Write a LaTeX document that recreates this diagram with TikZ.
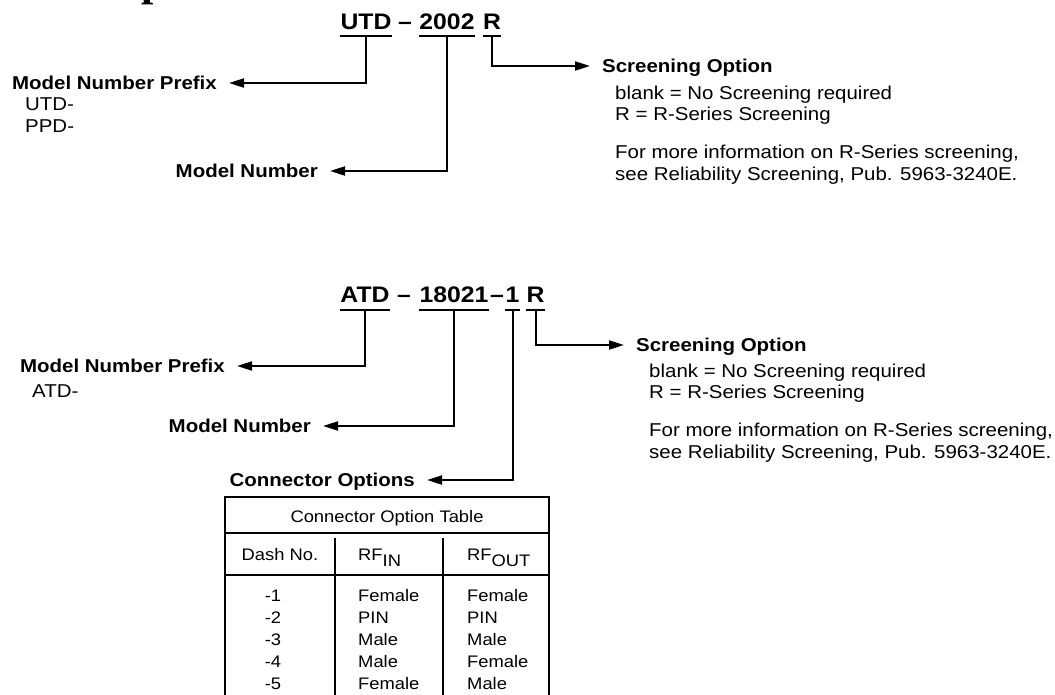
\documentclass[tikz,border=0pt]{standalone}
\usepackage{fontspec}
\setmainfont{Liberation Sans}[FakeStretch=1.1]
\newfontfamily\headfont{Liberation Serif}
\usetikzlibrary{positioning,arrows.meta}

\newcommand{\codesize}{\fontsize{22.5pt}{27pt}\selectfont\bfseries}
\newcommand{\labsize}{\fontsize{18.6pt}{22.5pt}\selectfont\bfseries}
\newcommand{\txtsize}{\fontsize{18.6pt}{22.5pt}\selectfont}
\newcommand{\tabsize}{\fontsize{16.7pt}{22pt}\selectfont}

\begin{document}
\begin{tikzpicture}[x=1pt, y=-1pt,
    code/.style={font=\codesize, inner sep=0pt, anchor=base},
    lab/.style={font=\labsize, inner sep=0pt, text height=13pt, text depth=0pt},
    txt/.style={font=\txtsize, inner sep=0pt, anchor=base west},
    cell/.style={font=\tabsize, inner sep=0pt, anchor=base},
    conn/.style={line width=2pt, -{Triangle[length=15pt,width=9pt]}},
    uline/.style={line width=2pt},
    grid/.style={line width=1.2pt}]
    \fill[white] (0,0) rectangle (1055,694);
    \useasboundingbox (0,0) rectangle (1055,694);

    % cut heading
    \node[inner sep=0pt, anchor=base west, font={\headfont\bfseries\fontsize{44pt}{50pt}\selectfont}] (headp) at (141,-5) {p};

    % UTD part number
    \node[code] (utdA) at (366,29) {UTD};
    \node[code] (dashA) at (405,29) {–};
    \node[code] (numA) at (447,29) {2002};
    \node[code] (rA) at (492,29) {R};
    \foreach \n in {utdA,numA,rA}
        \draw[uline] ([yshift=-7pt]\n.base west) -- ([yshift=-7pt]\n.base east);

    \node[lab, anchor=east] (pfxA) at (217,83) {Model Number Prefix};
    \node[txt] (utdL) at (25,110) {UTD-};
    \node[txt] (ppdL) at (25,132) {PPD-};
    \node[lab, anchor=east] (nameA) at (318,171) {Model Number};

    \node[lab, anchor=west] (scrA) at (602,66) {Screening Option};
    \node[txt] (blankA) at ([xshift=13pt, yshift=-27pt]scrA.base west) {blank = No Screening required};
    \node[txt] (rserA) at ([xshift=13pt, yshift=-48pt]scrA.base west) {R = R-Series Screening};
    \node[txt] (moreA) at ([xshift=13pt, yshift=-86pt]scrA.base west) {For more information on R-Series screening,};
    \node[txt] (seeA) at ([xshift=13pt, yshift=-108pt]scrA.base west) {see Reliability Screening, Pub. 5963-3240E.};

    \draw[conn] ([yshift=-7pt]utdA.base) |- ([xshift=12pt]pfxA.east);
    \draw[conn] ([yshift=-7pt]numA.base) |- ([xshift=12pt]nameA.east);
    \draw[conn] ([yshift=-7pt]rA.base) |- ([xshift=-12pt]scrA.west);

    % ATD part number
    \node[code] (atdB) at (365,302) {ATD};
    \node[code] (dashB) at (404,302) {–};
    \node[code] (numB) at (454,302) {18021};
    \node[code] (dashC) at (497,302) {–};
    \node[code] (optB) at (512.5,302) {1};
    \node[code] (rB) at (535.5,302) {R};
    \foreach \n in {atdB,numB,optB,rB}
        \draw[uline] ([yshift=-8pt]\n.base west) -- ([yshift=-8pt]\n.base east);

    \node[lab, anchor=east] (pfxB) at (225,366) {Model Number Prefix};
    \node[txt] (atdL) at (32,397) {ATD-};
    \node[lab, anchor=east] (nameB) at (311,426) {Model Number};
    \node[lab, anchor=east] (conB) at (415,480) {Connector Options};

    \node[lab, anchor=west] (scrB) at (636,345) {Screening Option};
    \node[txt] (blankB) at ([xshift=13pt, yshift=-26pt]scrB.base west) {blank = No Screening required};
    \node[txt] (rserB) at ([xshift=13pt, yshift=-47pt]scrB.base west) {R = R-Series Screening};
    \node[txt] (moreB) at ([xshift=13pt, yshift=-85pt]scrB.base west) {For more information on R-Series screening,};
    \node[txt] (seeB) at ([xshift=13pt, yshift=-107pt]scrB.base west) {see Reliability Screening, Pub. 5963-3240E.};

    \draw[conn] ([yshift=-8pt]atdB.base) |- ([xshift=12pt]pfxB.east);
    \draw[conn] ([yshift=-8pt]numB.base) |- ([xshift=12pt]nameB.east);
    \draw[conn] ([yshift=-8pt]optB.base) |- ([xshift=12pt]conB.east);
    \draw[conn] ([yshift=-8pt]rB.base) |- ([xshift=-12pt]scrB.west);

    % connector option table
    \draw[grid] (225,700) -- (225,497) -- (549,497) -- (549,700);
    \draw[grid] (225,533) -- (549,533);
    \draw[grid] (225,575) -- (549,575);
    \draw[grid] (335,538) -- (335,700);
    \draw[grid] (443,538) -- (443,700);

    \node[cell] (tabT) at (387,522) {Connector Option Table};
    \node[cell] (dashH) at (280,560) {Dash No.};
    \node[cell, anchor=base west] (inH) at (358,560) {RF\raisebox{-6pt}{IN}};
    \node[cell, anchor=base west] (outH) at (467,560) {RF\raisebox{-6pt}{OUT}};
    \foreach \d/\i/\o [count=\k from 0] in {-1/Female/Female,-2/PIN/PIN,-3/Male/Male,-4/Male/Female,-5/Female/Male} {
        \node[cell] (dash\k) at (273,{601+22*\k}) {\d};
        \node[cell, anchor=base west] (in\k) at (358,{601+22*\k}) {\i};
        \node[cell, anchor=base west] (out\k) at (467,{601+22*\k}) {\o};
    }
\end{tikzpicture}
\end{document}
